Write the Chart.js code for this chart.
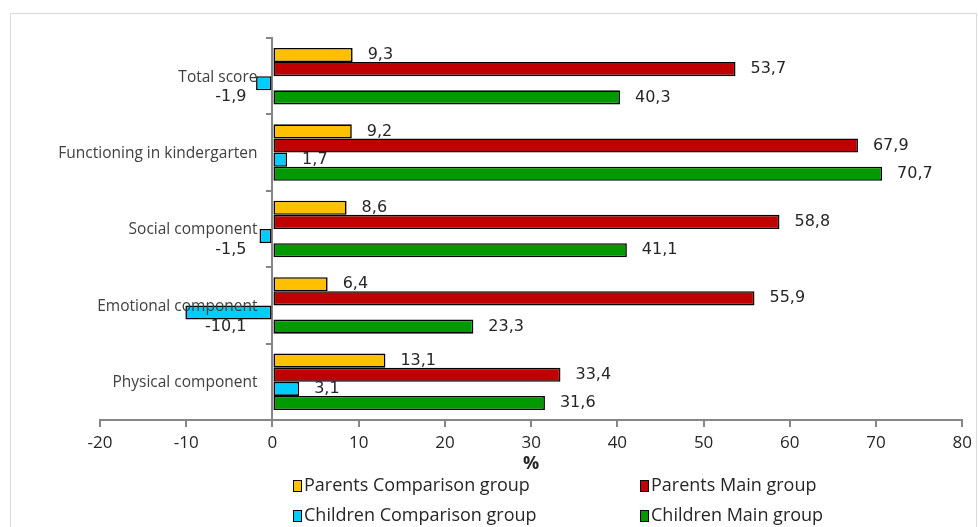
<!DOCTYPE html>
<html><head><meta charset="utf-8">
<script src="https://cdn.jsdelivr.net/npm/chart.js@4.4.1/dist/chart.umd.min.js"></script>
<style>
html,body{margin:0;padding:0;background:#fff;}
#wrap{position:relative;width:978px;height:527px;overflow:hidden;}
#frame{position:absolute;left:10px;top:13px;width:967px;height:540px;border:1px solid #d9d9d9;box-sizing:border-box;}
canvas{position:absolute;left:0;top:0;}
</style></head><body>
<div id="wrap"><div id="frame"></div><canvas id="c" width="978" height="527"></canvas></div>
<script>
const categories = ["Total score", "Functioning in kindergarten", "Social component", "Emotional component", "Physical component"];
const seriesNames = ["Parents Comparison group", "Parents Main group", "Children Comparison group", "Children Main group"];
const parentsComparison = [9.3, 9.2, 8.6, 6.4, 13.1];
const parentsMain = [53.7, 67.9, 58.8, 55.9, 33.4];
const childrenComparison = [-1.9, 1.7, -1.5, -10.1, 3.1];
const childrenMain = [40.3, 70.7, 41.1, 23.3, 31.6];
const xMin = -20, xMax = 80, xStep = 10;
const axisTitle = "%";

const colors = ["#FFC000", "#C00000", "#00CCFF", "#009900"];
const seriesData = [parentsComparison, parentsMain, childrenComparison, childrenMain];

const fmt = v => String(v).replace('.', ',');

const valueLabels = {
  id: 'valueLabels',
  afterDatasetsDraw(chart) {
    const ctx = chart.ctx;
    const zeroX = chart.scales.x.getPixelForValue(0);
    ctx.save();
    ctx.font = '16px "DejaVu Sans", sans-serif';
    ctx.fillStyle = '#262626';
    ctx.textBaseline = 'middle';
    chart.data.datasets.forEach((ds, di) => {
      const meta = chart.getDatasetMeta(di);
      meta.data.forEach((el, i) => {
        const v = ds.data[i];
        if (v >= 0) {
          ctx.textAlign = 'left';
          ctx.fillText(fmt(v), el.x + 15, el.y);
        } else {
          ctx.textAlign = 'right';
          ctx.fillText(fmt(v), zeroX - 26, el.y + 14);
        }
      });
    });
    ctx.restore();
  }
};

const categoryLabels = {
  id: 'categoryLabels',
  afterDraw(chart) {
    const ctx = chart.ctx;
    const zeroX = chart.scales.x.getPixelForValue(0);
    const yScale = chart.scales.y;
    ctx.save();
    ctx.font = '15.5px "Open Sans", sans-serif';
    ctx.fillStyle = '#404040';
    ctx.textAlign = 'right';
    ctx.textBaseline = 'middle';
    chart.data.labels.forEach((lab, i) => {
      ctx.fillText(lab, zeroX - 15, yScale.getPixelForValue(i) + 1);
    });
    ctx.restore();
  }
};

const twoColLegend = {
  id: 'twoColLegend',
  afterDraw(chart) {
    const ctx = chart.ctx;
    const w = chart.width, h = chart.height;
    const cols = [Math.round(w * 0.2995), Math.round(w * 0.6545)];
    const rows = [h - 41, h - 11];
    ctx.save();
    ctx.font = '18px "Open Sans", sans-serif';
    ctx.textBaseline = 'middle';
    ctx.textAlign = 'left';
    chart.data.datasets.forEach((ds, i) => {
      const x = cols[i % 2], y = rows[Math.floor(i / 2)];
      ctx.fillStyle = ds.backgroundColor;
      ctx.fillRect(x, y - 6, 9, 12);
      ctx.strokeStyle = '#000';
      ctx.lineWidth = 1;
      ctx.strokeRect(x + 0.5, y - 5.5, 8, 11);
      ctx.fillStyle = '#262626';
      ctx.fillText(ds.label, x + 11, y);
    });
    ctx.restore();
  }
};

new Chart(document.getElementById('c'), {
  type: 'bar',
  data: {
    labels: categories,
    datasets: seriesData.map((d, i) => ({
      label: seriesNames[i],
      data: d,
      backgroundColor: colors[i],
      borderColor: '#000',
      borderWidth: 1.6,
      borderSkipped: false,
      categoryPercentage: 0.74,
      barPercentage: 1.0
    }))
  },
  options: {
    indexAxis: 'y',
    responsive: false,
    animation: false,
    devicePixelRatio: 1,
    layout: { padding: { left: 100, right: 12, top: 38, bottom: 52 } },
    plugins: { legend: { display: false }, tooltip: { enabled: false } },
    scales: {
      x: {
        min: xMin, max: xMax,
        ticks: { stepSize: xStep, color: '#262626', font: { family: '"Open Sans", sans-serif', size: 17 }, padding: 6 },
        grid: { display: true, drawOnChartArea: false, drawTicks: true, tickLength: 7, color: '#868686', lineWidth: 2 },
        border: { display: true, color: '#868686', width: 2 },
        title: { display: true, text: axisTitle, color: '#262626', font: { family: '"Open Sans", sans-serif', size: 18, weight: 'bold' }, padding: { top: -6, bottom: 0 } }
      },
      y: {
        position: { x: 0 },
        z: 1,
        ticks: { display: false },
        grid: { display: true, drawOnChartArea: false, drawTicks: true, tickLength: 5, color: '#868686', lineWidth: 2, offset: true },
        border: { display: true, color: '#868686', width: 2 }
      }
    }
  },
  plugins: [valueLabels, categoryLabels, twoColLegend]
});
</script>
</body></html>
